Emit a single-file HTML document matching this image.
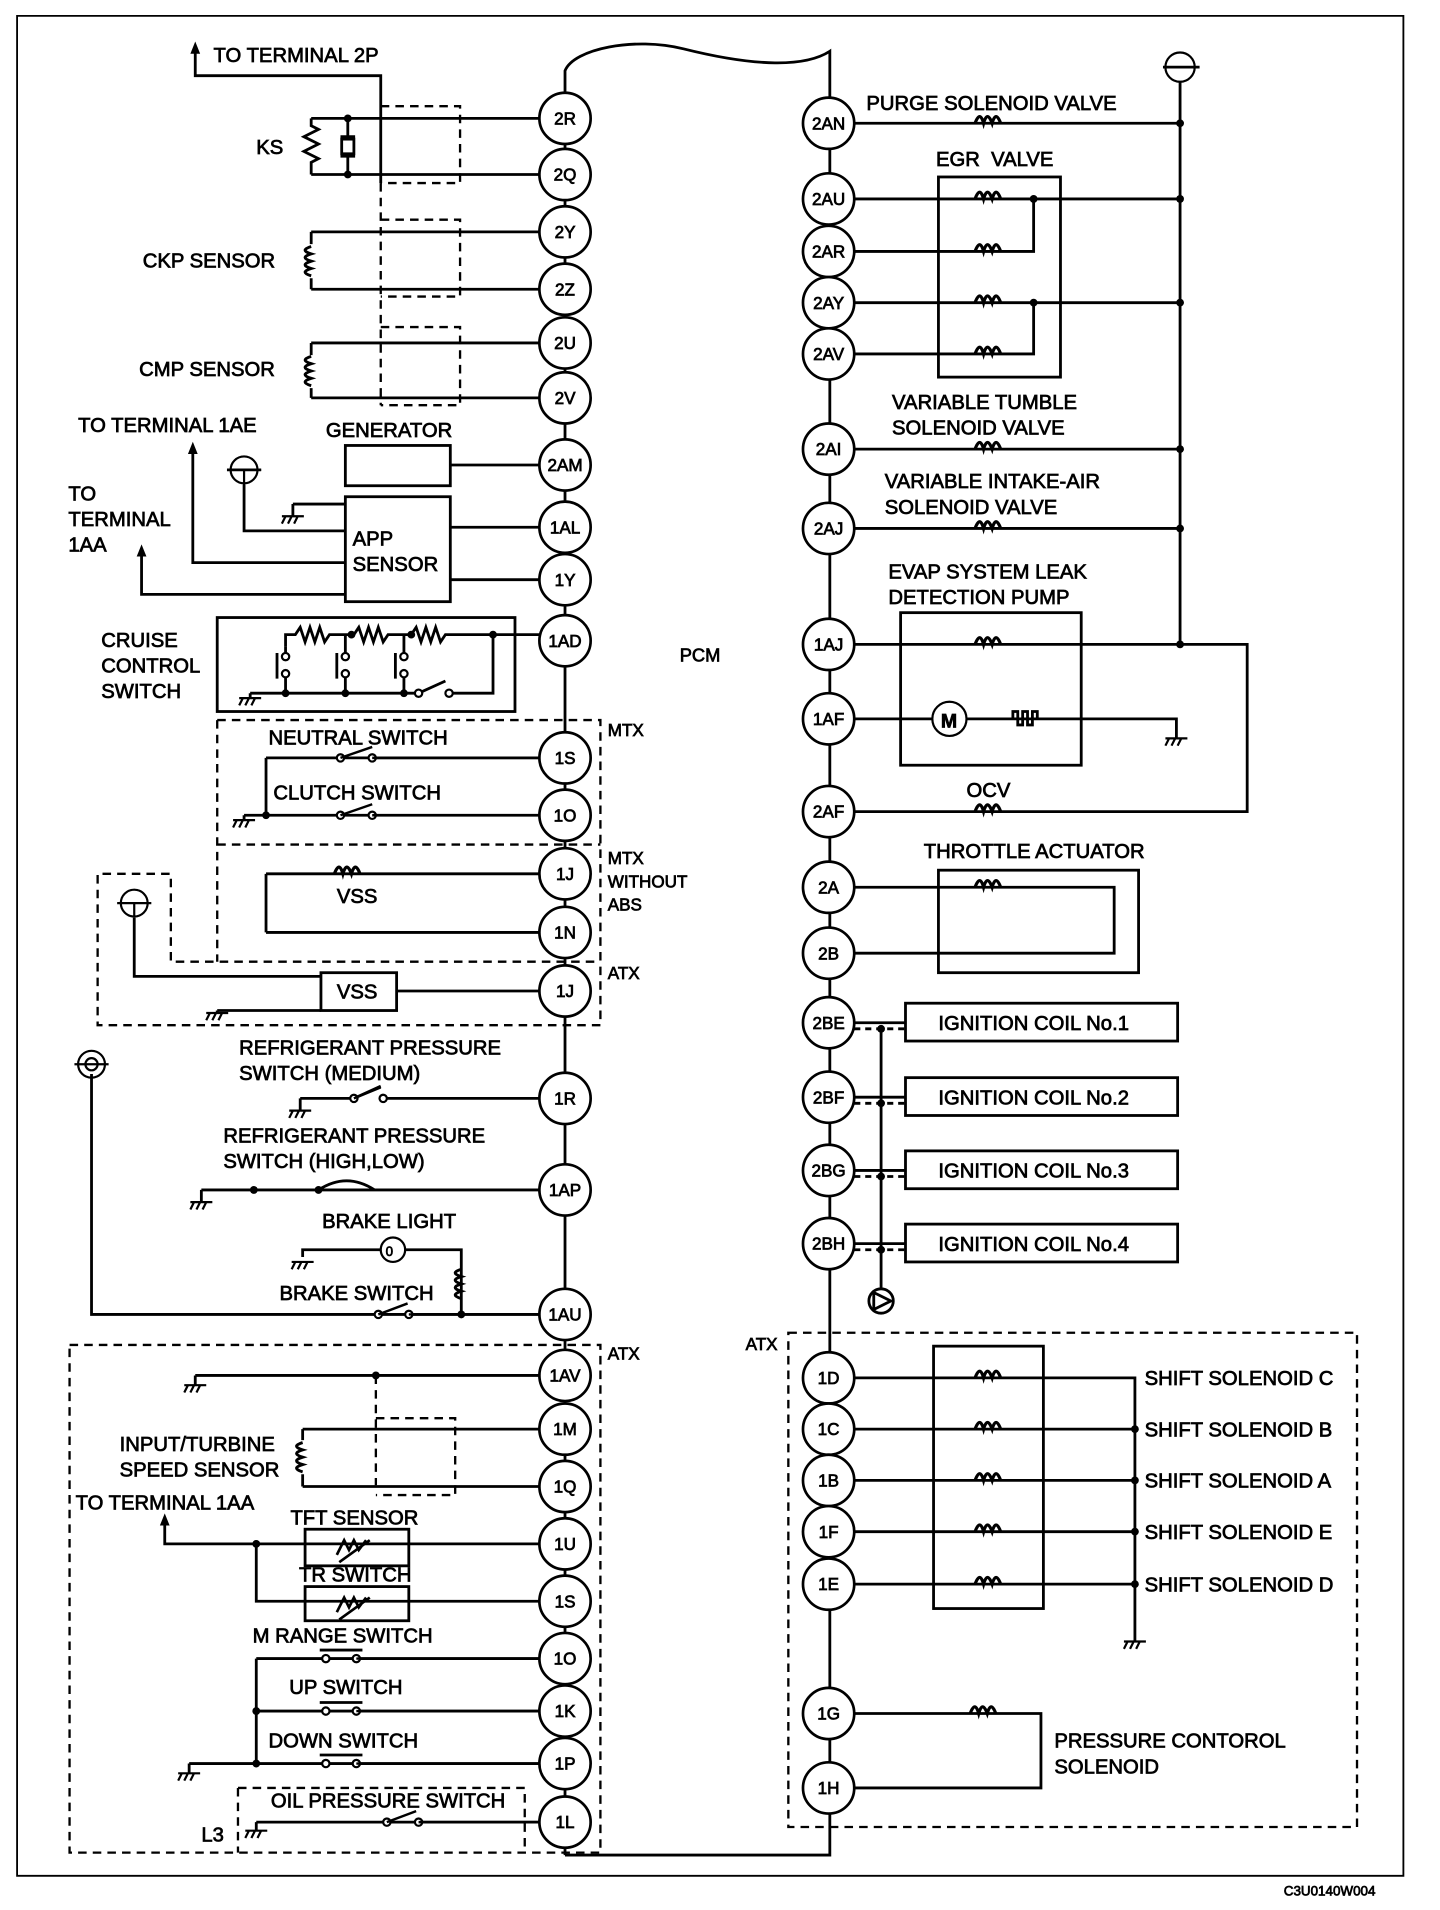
<!DOCTYPE html>
<html><head><meta charset="utf-8"><style>
html,body{margin:0;padding:0;background:#fff;}
svg{display:block;}
text{font-family:"Liberation Sans",sans-serif;font-size:16.6px;fill:#000;stroke:#000;stroke-width:0.6;}
.n{font-size:14px;text-anchor:middle;}
</style></head><body>
<svg width="1440" height="1910" viewBox="0 0 1180 1565" preserveAspectRatio="none" xmlns="http://www.w3.org/2000/svg">
<defs>
<path id="c" d="M-2 0 q4 -11 7 0 q3 -11 7 0 q3 -11 7 0" fill="none" stroke="#000" stroke-width="2.6"/>
<path id="cv" d="M0 0 q-10 3 0 6 q-10 3 0 6 q-10 3 0 6 q-10 3 0 6" fill="none" stroke="#000" stroke-width="2.4"/>
<path id="g" d="M-9 0h18 M-6 0l-3 6 M-1 0l-3 6 M4 0l-3 6" fill="none" stroke="#000" stroke-width="1.8"/>
</defs>
<g fill="none" stroke="#000" stroke-width="2.3">
<path d="M14 13 H1150 V1537 H14 Z" stroke-width="1.5"/>
<path d="M463 1520 V58 C470 40 520 30 560 40 C620 55 660 55 680 42 V1515 V1520 H463"/>
<path d="M967 67 V528 H1022 V665 H700"/>
<path d="M953 55 H983"/>
<path d="M160 42 V62 H312 V150"/>
<path d="M255 97 H442 M255 143 H442 M255 97 V103 l6 3 -12 6 12 6 -12 6 12 6 -6 3 V143 M285 97 V112 M285 128 V143 M279 112 H291 M279 128 H291"/>
<rect x="280" y="114" width="10" height="12"/>
<path d="M255 190 H442 M255 237 H442 M255 190 V200 M255 228 V237 M255 281 H442 M255 326 H442 M255 281 V291 M255 318 V326"/>
<path d="M158 372 V461 H283 M116 456 V487 H283 M200 397 V435 H283 M186 385 H214 M240 413 H283 M240 413 V423"/>
<rect x="283" y="365" width="86" height="33"/>
<rect x="283" y="407" width="86" height="86"/>
<path d="M369 381 H442 M369 432 H442 M369 475 H442"/>
<rect x="178" y="506" width="244" height="77"/>
<path d="M234 530 V520 H242 l4 -6 4 12 4 -12 4 12 4 -12 4 12 4 -6 H290 l4 -6 4 12 4 -12 4 12 4 -12 4 12 4 -6 H337 l4 -6 4 12 4 -12 4 12 4 -12 4 12 4 -6 H442 M404 520 V568 H368 M205 568 V572 M205 568 H343 l22 -10"/>
<path d="M234 530 V535 M234 555 V568 M283 520 V535 M283 555 V568 M331 520 V535 M331 555 V568 M227 535 V556 M276 535 V556 M324 535 V556"/>
<path d="M218 621 H442 M218 668 H442 M218 621 V668 M200 668 H218 M200 668 V672 M218 716 H442 M218 764 H442 M218 716 V764"/>
<path d="M110 752 V800 H263 M178 828 H263 M178 828 V830"/>
<rect x="263" y="797" width="62" height="31"/>
<path d="M325 812 H442"/>
<path d="M246 900 H290 l22 -10 M314 900 H442 M246 900 V910"/>
<path d="M165 975 H442 M165 975 V985 M261 975 Q284 960 307 975"/>
<path d="M248 1030 V1024 H312 M332 1024 H378 V1077 M75 880 V1077 H442"/>
<path d="M160 1127 H442 M160 1127 V1135 M248 1171 H442 M248 1218 H442 M248 1171 V1180 M248 1208 V1218"/>
<path d="M135 1250 V1265 H442 M210 1265 V1312 H442"/>
<rect x="250" y="1253" width="85" height="30"/>
<rect x="250" y="1300" width="85" height="28"/>
<path d="M210 1359 H442 M210 1402 H442 M155 1445 H442 M210 1359 V1445 M155 1445 V1453 M262 1352 H297 M262 1395 H297 M262 1438 H297"/>
<path d="M210 1493 H442 M210 1493 V1500"/>
<path d="M700 101 H967 M700 163 H967 M700 206 H847 V163 M700 248 H967 M700 290 H847 V248 M700 368 H967 M700 433 H967 M700 528 H967"/>
<rect x="769" y="145" width="100" height="164"/>
<rect x="738" y="502" width="148" height="125"/>
<path d="M700 589 H964 V605 M830 589 V583 H834 V594 H838 V583 H842 V594 H846 V583 H850 V589"/>
<rect x="769" y="713" width="164" height="84"/>
<path d="M700 727 H913 V781 H700"/>
<rect x="742" y="822" width="223" height="31"/>
<rect x="742" y="883" width="223" height="31"/>
<rect x="742" y="943" width="223" height="31"/>
<rect x="742" y="1003" width="223" height="31"/>
<path d="M700 838 H742 M700 899 H742 M700 959 H742 M700 1019 H742 M722 842 V1056"/>
<path d="M700 843 H742 M700 904 H742 M700 964 H742 M700 1024 H742" stroke-dasharray="5 4"/>
<circle cx="722" cy="1066" r="10" fill="#fff"/>
<path d="M716 1059 L730 1066 L716 1073 Z"/>
<rect x="765" y="1103" width="90" height="215"/>
<path d="M700 1129 H930 V1345 M700 1171 H930 M700 1213 H930 M700 1255 H930 M700 1298 H930 M700 1404 H853 V1465 H700"/>
</g>
<g fill="none" stroke="#000" stroke-width="1.9" stroke-dasharray="7 5">
<path d="M312 87 H377 V150 H312 M312 150 V332 M312 180 H377 V243 H312 M312 268 H377 V332 H312"/>
<path d="M178 590 H492 V840 H80 V716 H140 V788 H492 M178 590 V788 M178 692 H492"/>
<path d="M57 1102 H492 V1518 H57 Z M308 1127 V1217 M308 1162 H373 V1225 H308"/>
<path d="M195 1465 H430 V1518 M195 1465 V1518"/>
<path d="M646 1092 H1112 V1497 H646 Z"/>
</g>
<use href="#c" x="276" y="716"/>
<use href="#cv" x="255" y="202"/><use href="#cv" x="255" y="292"/><use href="#cv" x="248" y="1182"/><use href="#cv" x="378" y="1040"/>
<use href="#c" x="801" y="101"/><use href="#c" x="801" y="163"/><use href="#c" x="801" y="206"/><use href="#c" x="801" y="248"/><use href="#c" x="801" y="290"/>
<use href="#c" x="801" y="368"/><use href="#c" x="801" y="433"/><use href="#c" x="801" y="528"/><use href="#c" x="801" y="665"/><use href="#c" x="801" y="727"/>
<use href="#c" x="801" y="1129"/><use href="#c" x="801" y="1171"/><use href="#c" x="801" y="1213"/><use href="#c" x="801" y="1255"/><use href="#c" x="801" y="1298"/><use href="#c" x="797" y="1404"/>
<use href="#g" x="240" y="423"/><use href="#g" x="205" y="572"/><use href="#g" x="200" y="672"/><use href="#g" x="178" y="830"/><use href="#g" x="246" y="910"/><use href="#g" x="165" y="985"/><use href="#g" x="248" y="1034"/>
<use href="#g" x="160" y="1135"/><use href="#g" x="155" y="1453"/><use href="#g" x="210" y="1500"/><use href="#g" x="964" y="605"/><use href="#g" x="930" y="1345"/>
<g fill="#000">
<path d="M160 34 l-4 10 h8 Z"/><path d="M158 362 l-4 10 h8 Z"/><path d="M116 446 l-4 10 h8 Z"/><path d="M135 1240 l-4 10 h8 Z"/>
<circle cx="285" cy="97" r="3.2"/><circle cx="285" cy="143" r="3.2"/><circle cx="288" cy="520" r="3.2"/><circle cx="337" cy="520" r="3.2"/><circle cx="404" cy="520" r="3.2"/>
<circle cx="234" cy="568" r="3.2"/><circle cx="283" cy="568" r="3.2"/><circle cx="331" cy="568" r="3.2"/><circle cx="218" cy="668" r="3.2"/>
<circle cx="208" cy="975" r="3.2"/><circle cx="261" cy="975" r="3.2"/><circle cx="378" cy="1077" r="3.2"/>
<circle cx="308" cy="1127" r="3.2"/><circle cx="210" cy="1265" r="3.2"/><circle cx="210" cy="1402" r="3.2"/><circle cx="210" cy="1445" r="3.2"/>
<circle cx="967" cy="101" r="3.2"/><circle cx="967" cy="163" r="3.2"/><circle cx="967" cy="248" r="3.2"/><circle cx="967" cy="368" r="3.2"/><circle cx="967" cy="433" r="3.2"/><circle cx="967" cy="528" r="3.2"/>
<circle cx="847" cy="163" r="3.2"/><circle cx="847" cy="248" r="3.2"/>
<circle cx="722" cy="843" r="3.2"/><circle cx="722" cy="904" r="3.2"/><circle cx="722" cy="964" r="3.2"/><circle cx="722" cy="1024" r="3.2"/>
<circle cx="930" cy="1171" r="3.2"/><circle cx="930" cy="1213" r="3.2"/><circle cx="930" cy="1255" r="3.2"/><circle cx="930" cy="1298" r="3.2"/>
</g>
<g fill="#fff" stroke="#000" stroke-width="1.8">
<circle cx="234" cy="538" r="3"/><circle cx="234" cy="552" r="3"/><circle cx="283" cy="538" r="3"/><circle cx="283" cy="552" r="3"/><circle cx="331" cy="538" r="3"/><circle cx="331" cy="552" r="3"/>
<circle cx="343" cy="568" r="3"/><circle cx="368" cy="568" r="3"/>
<circle cx="279" cy="621" r="3"/><circle cx="305" cy="621" r="3"/><circle cx="279" cy="668" r="3"/><circle cx="305" cy="668" r="3"/>
<circle cx="290" cy="900" r="3"/><circle cx="314" cy="900" r="3"/><circle cx="310" cy="1077" r="3"/><circle cx="335" cy="1077" r="3"/>
<circle cx="267" cy="1359" r="3"/><circle cx="292" cy="1359" r="3"/><circle cx="267" cy="1402" r="3"/><circle cx="292" cy="1402" r="3"/><circle cx="267" cy="1445" r="3"/><circle cx="292" cy="1445" r="3"/>
<circle cx="317" cy="1493" r="3"/><circle cx="343" cy="1493" r="3"/>
<circle cx="322" cy="1024" r="10"/>
<circle cx="200" cy="385" r="11" fill="none"/><circle cx="110" cy="740" r="11" fill="none"/><circle cx="967" cy="55" r="12" fill="none"/>
<circle cx="75" cy="872" r="11" fill="none"/><circle cx="75" cy="872" r="5" fill="none"/>
<circle cx="778" cy="589" r="14"/>
</g>
<path d="M186 385 H214 M96 740 H124 M61 872 H89 M110 752 V740 M200 397 V385" stroke="#000" stroke-width="1.8"/>
<path d="M279 621 l26 -9 M279 668 l26 -9 M290 900 l22 -9 M310 1077 l24 -9 M317 1493 l24 -9 M305 621 H442 M305 668 H442 M335 1077 H442 M343 1493 H442 M292 1359 H442 M292 1402 H442 M292 1445 H442" stroke="#000" stroke-width="2"/>
<path d="M276 1274 l6 -12 4 8 4 -8 4 8 6 -8 M278 1280 L303 1262 M276 1321 l6 -12 4 8 4 -8 4 8 6 -8 M278 1327 L303 1309" fill="none" stroke="#000" stroke-width="2.2"/>
<text x="316" y="1029" style="font-size:11px">0</text>
<text x="771" y="596" style="font-size:16px;font-weight:bold">M</text>
<g fill="#fff" stroke="#000" stroke-width="2.2">
<circle cx="463" cy="97" r="21"/><circle cx="463" cy="143" r="21"/><circle cx="463" cy="190" r="21"/><circle cx="463" cy="237" r="21"/><circle cx="463" cy="281" r="21"/><circle cx="463" cy="326" r="21"/>
<circle cx="463" cy="381" r="21"/><circle cx="463" cy="432" r="21"/><circle cx="463" cy="475" r="21"/><circle cx="463" cy="525" r="21"/><circle cx="463" cy="621" r="21"/><circle cx="463" cy="668" r="21"/>
<circle cx="463" cy="716" r="21"/><circle cx="463" cy="764" r="21"/><circle cx="463" cy="812" r="21"/><circle cx="463" cy="900" r="21"/><circle cx="463" cy="975" r="21"/><circle cx="463" cy="1077" r="21"/>
<circle cx="463" cy="1127" r="21"/><circle cx="463" cy="1171" r="21"/><circle cx="463" cy="1218" r="21"/><circle cx="463" cy="1265" r="21"/><circle cx="463" cy="1312" r="21"/><circle cx="463" cy="1359" r="21"/>
<circle cx="463" cy="1402" r="21"/><circle cx="463" cy="1445" r="21"/><circle cx="463" cy="1493" r="21"/>
<circle cx="679" cy="101" r="21"/><circle cx="679" cy="163" r="21"/><circle cx="679" cy="206" r="21"/><circle cx="679" cy="248" r="21"/><circle cx="679" cy="290" r="21"/><circle cx="679" cy="368" r="21"/>
<circle cx="679" cy="433" r="21"/><circle cx="679" cy="528" r="21"/><circle cx="679" cy="589" r="21"/><circle cx="679" cy="665" r="21"/><circle cx="679" cy="727" r="21"/><circle cx="679" cy="781" r="21"/>
<circle cx="679" cy="838" r="21"/><circle cx="679" cy="899" r="21"/><circle cx="679" cy="959" r="21"/><circle cx="679" cy="1019" r="21"/><circle cx="679" cy="1129" r="21"/><circle cx="679" cy="1171" r="21"/>
<circle cx="679" cy="1213" r="21"/><circle cx="679" cy="1255" r="21"/><circle cx="679" cy="1298" r="21"/><circle cx="679" cy="1404" r="21"/><circle cx="679" cy="1465" r="21"/>
</g>
<g>
<text class="n" x="463" y="102">2R</text><text class="n" x="463" y="148">2Q</text><text class="n" x="463" y="195">2Y</text><text class="n" x="463" y="242">2Z</text><text class="n" x="463" y="286">2U</text><text class="n" x="463" y="331">2V</text>
<text class="n" x="463" y="386">2AM</text><text class="n" x="463" y="437">1AL</text><text class="n" x="463" y="480">1Y</text><text class="n" x="463" y="530">1AD</text><text class="n" x="463" y="626">1S</text><text class="n" x="463" y="673">1O</text>
<text class="n" x="463" y="721">1J</text><text class="n" x="463" y="769">1N</text><text class="n" x="463" y="817">1J</text><text class="n" x="463" y="905">1R</text><text class="n" x="463" y="980">1AP</text><text class="n" x="463" y="1082">1AU</text>
<text class="n" x="463" y="1132">1AV</text><text class="n" x="463" y="1176">1M</text><text class="n" x="463" y="1223">1Q</text><text class="n" x="463" y="1270">1U</text><text class="n" x="463" y="1317">1S</text><text class="n" x="463" y="1364">1O</text>
<text class="n" x="463" y="1407">1K</text><text class="n" x="463" y="1450">1P</text><text class="n" x="463" y="1498">1L</text>
<text class="n" x="679" y="106">2AN</text><text class="n" x="679" y="168">2AU</text><text class="n" x="679" y="211">2AR</text><text class="n" x="679" y="253">2AY</text><text class="n" x="679" y="295">2AV</text><text class="n" x="679" y="373">2AI</text>
<text class="n" x="679" y="438">2AJ</text><text class="n" x="679" y="533">1AJ</text><text class="n" x="679" y="594">1AF</text><text class="n" x="679" y="670">2AF</text><text class="n" x="679" y="732">2A</text><text class="n" x="679" y="786">2B</text>
<text class="n" x="679" y="843">2BE</text><text class="n" x="679" y="904">2BF</text><text class="n" x="679" y="964">2BG</text><text class="n" x="679" y="1024">2BH</text><text class="n" x="679" y="1134">1D</text><text class="n" x="679" y="1176">1C</text>
<text class="n" x="679" y="1218">1B</text><text class="n" x="679" y="1260">1F</text><text class="n" x="679" y="1303">1E</text><text class="n" x="679" y="1409">1G</text><text class="n" x="679" y="1470">1H</text>
</g>
<text x="175" y="51">TO TERMINAL 2P</text>
<text x="210" y="126">KS</text>
<text x="117" y="219">CKP SENSOR</text>
<text x="114" y="308">CMP SENSOR</text>
<text x="64" y="354">TO TERMINAL 1AE</text>
<text x="267" y="358">GENERATOR</text>
<text x="56" y="410">TO</text><text x="56" y="431">TERMINAL</text><text x="56" y="452">1AA</text>
<text x="289" y="447">APP</text><text x="289" y="468">SENSOR</text>
<text x="83" y="530">CRUISE</text><text x="83" y="551">CONTROL</text><text x="83" y="572">SWITCH</text>
<text x="557" y="542" style="font-size:15px">PCM</text>
<text x="220" y="610">NEUTRAL SWITCH</text>
<text x="224" y="655">CLUTCH SWITCH</text>
<text x="498" y="603" style="font-size:14px">MTX</text>
<text x="498" y="708" style="font-size:14px">MTX</text><text x="498" y="727" style="font-size:14px">WITHOUT</text><text x="498" y="746" style="font-size:14px">ABS</text>
<text x="276" y="740">VSS</text>
<text x="276" y="818">VSS</text>
<text x="498" y="802" style="font-size:14px">ATX</text>
<text x="196" y="864">REFRIGERANT PRESSURE</text><text x="196" y="885">SWITCH (MEDIUM)</text>
<text x="183" y="936">REFRIGERANT PRESSURE</text><text x="183" y="957">SWITCH (HIGH,LOW)</text>
<text x="264" y="1006">BRAKE LIGHT</text>
<text x="229" y="1065">BRAKE SWITCH</text>
<text x="498" y="1114" style="font-size:14px">ATX</text>
<text x="98" y="1189">INPUT/TURBINE</text><text x="98" y="1210">SPEED SENSOR</text>
<text x="62" y="1237">TO TERMINAL 1AA</text>
<text x="238" y="1249">TFT SENSOR</text>
<text x="245" y="1296">TR SWITCH</text>
<text x="207" y="1346">M RANGE SWITCH</text>
<text x="237" y="1388">UP SWITCH</text>
<text x="220" y="1432">DOWN SWITCH</text>
<text x="222" y="1481">OIL PRESSURE SWITCH</text>
<text x="165" y="1509">L3</text>
<text x="710" y="90">PURGE SOLENOID VALVE</text>
<text x="767" y="136">EGR&#160; VALVE</text>
<text x="731" y="335">VARIABLE TUMBLE</text><text x="731" y="356">SOLENOID VALVE</text>
<text x="725" y="400">VARIABLE INTAKE-AIR</text><text x="725" y="421">SOLENOID VALVE</text>
<text x="728" y="474">EVAP SYSTEM LEAK</text><text x="728" y="495">DETECTION PUMP</text>
<text x="792" y="653">OCV</text>
<text x="757" y="703">THROTTLE ACTUATOR</text>
<text x="769" y="844">IGNITION COIL No.1</text>
<text x="769" y="905">IGNITION COIL No.2</text>
<text x="769" y="965">IGNITION COIL No.3</text>
<text x="769" y="1025">IGNITION COIL No.4</text>
<text x="611" y="1106" style="font-size:14px">ATX</text>
<text x="938" y="1135">SHIFT SOLENOID C</text>
<text x="938" y="1177">SHIFT SOLENOID B</text>
<text x="938" y="1219">SHIFT SOLENOID A</text>
<text x="938" y="1261">SHIFT SOLENOID E</text>
<text x="938" y="1304">SHIFT SOLENOID D</text>
<text x="864" y="1432">PRESSURE CONTOROL</text><text x="864" y="1453">SOLENOID</text>
<text x="1052" y="1553" style="font-size:11px">C3U0140W004</text>
</svg>
</body></html>
